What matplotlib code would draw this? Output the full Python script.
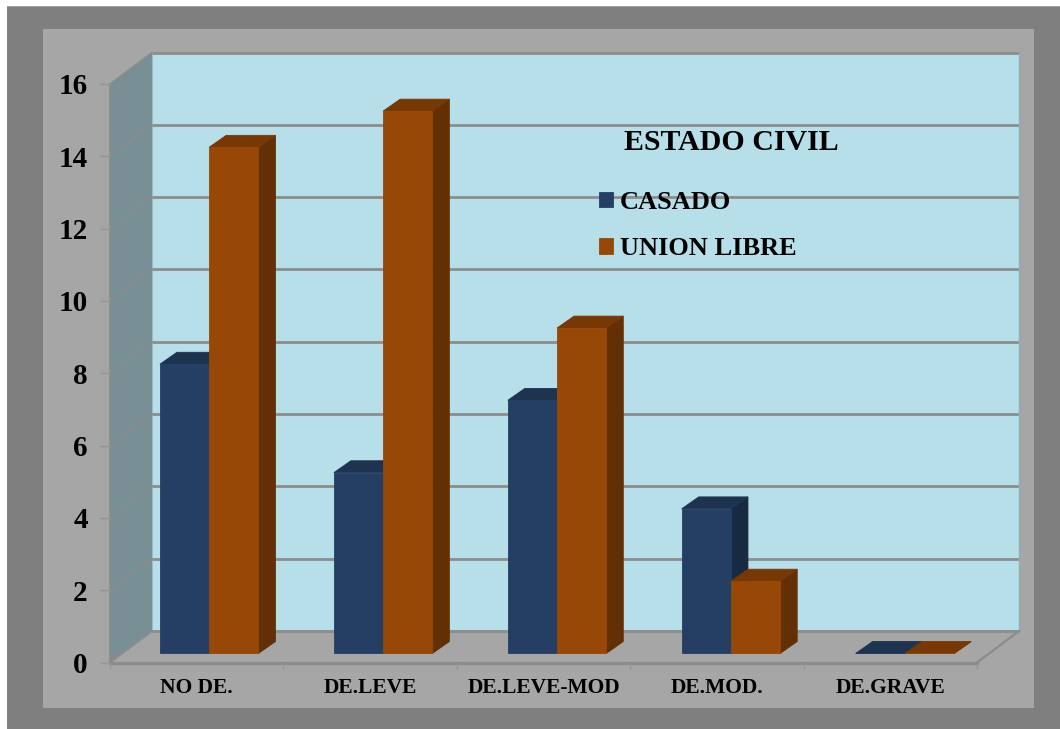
import matplotlib
matplotlib.use('Agg')
from matplotlib import pyplot as plt
from matplotlib.patches import Polygon, Rectangle
import numpy as np

categories = ['NO DE.', 'DE.LEVE', 'DE.LEVE-MOD', 'DE.MOD.', 'DE.GRAVE']
casado = [8, 5, 7, 4, 0]
union_libre = [14, 15, 9, 2, 0]
yticks = [0, 2, 4, 6, 8, 10, 12, 14, 16]

W, H = 1060, 729
plt.rcParams['font.family'] = ['Liberation Serif', 'DejaVu Serif']
plt.rcParams['font.weight'] = 'bold'

fig = plt.figure(figsize=(W / 100, H / 100), dpi=100, facecolor='white')

# background panels, pixel boxes from the top left
def panel(x0, y0, x1, y1, color):
    fig.add_artist(Rectangle((x0 / W, 1 - y1 / H), (x1 - x0) / W, (y1 - y0) / H, zorder=-5,
                             transform=fig.transFigure, facecolor=color, edgecolor='none'))

panel(7, 6, W, H, '#7f7f7f')
panel(7, 6, W, 7, '#a0a0a0')
panel(43, 29, 1034, 708, '#a6a6a6')

# axes is the front plane of the 3d box
ax = fig.add_axes([110 / W, 1 - 662.5 / H, 867 / W, 578.5 / H])
ax.set_xlim(0, 5)
ax.set_ylim(0, 16)
ax.patch.set_visible(False)

grid_col = '#8c8c8c'
depth_x = 42 / 173.4   # wall offset in category units
depth_y = 0.87         # wall offset in value units
bar_dx = 17 / 173.4
bar_dy = 0.33
bar_w = 0.284
bar_floor = 0.25
group_step = 1.003

def poly(pts, color, z, edge=None, lw=0.6):
    ax.add_patch(Polygon(pts, closed=True, facecolor=color, edgecolor=edge or color,
                         linewidth=lw, zorder=z, clip_on=False))

# walls and floor
poly([(depth_x, depth_y), (5 + depth_x, depth_y), (5 + depth_x, 16 + depth_y), (depth_x, 16 + depth_y)],
     '#b7dfe9', 0.5)
poly([(0, 0), (depth_x, depth_y), (depth_x, 16 + depth_y), (0, 16)], '#788f96', 0.6)
poly([(0, 0), (5, 0), (5 + depth_x, depth_y), (depth_x, depth_y)], '#a6a6a6', 0.7)

for t in yticks:
    ax.plot([depth_x, 5 + depth_x], [t + depth_y, t + depth_y], color=grid_col, lw=2.0,
            zorder=0.8, clip_on=False, solid_capstyle='butt')
    ax.plot([0, depth_x], [t, t + depth_y], color='#8c8c8c', lw=1.1, zorder=0.9, clip_on=False)
ax.plot([5 + depth_x, 5 + depth_x], [depth_y, 16 + depth_y], color='#8fb0b8', lw=1, zorder=0.8, clip_on=False)
ax.plot([5, 5 + depth_x], [0, depth_y], color=grid_col, lw=1.6, zorder=0.9, clip_on=False)
ax.plot([0, depth_x], [0, depth_y], color=grid_col, lw=1.2, zorder=0.9, clip_on=False)

# bars, front face with bar(), depth faces from the same values
def bars3d(values, left, front, side, top, z, label):
    x = np.arange(len(values)) * group_step + left
    b = ax.bar(x, values, width=bar_w, bottom=bar_floor, align='edge', color=front,
               edgecolor=front, linewidth=0.6, zorder=z + 0.2, clip_on=False, label=label)
    for xi, v in zip(x, values):
        y0, y1 = bar_floor, bar_floor + v
        r = xi + bar_w
        poly([(r, y0), (r + bar_dx, y0 + bar_dy), (r + bar_dx, y1 + bar_dy), (r, y1)], side, z)
        poly([(xi, y1), (r, y1), (r + bar_dx, y1 + bar_dy), (xi + bar_dx, y1 + bar_dy)], top, z + 0.1)
    return b

bars3d(casado, 0.288, '#243f63', '#182a42', '#1d3350', 2, 'CASADO')
bars3d(union_libre, 0.288 + bar_w, '#974806', '#632f04', '#773803', 3, 'UNION LIBRE')

# axis
ax.set_yticks(yticks)
ax.set_xticks(np.arange(6))
ax.set_xticklabels([])
ax.set_xticks(np.arange(5) + 0.5, labels=categories, minor=True)
ax.tick_params(axis='x', which='major', length=4, width=1, color='#969696')
ax.tick_params(axis='x', which='minor', length=0, pad=11, labelsize=15.5)
ax.tick_params(axis='y', length=7, width=1, color='#969696', pad=9, labelsize=21)
for s in ['top', 'right']:
    ax.spines[s].set_visible(False)
ax.spines['left'].set_color(grid_col)
ax.spines['left'].set_linewidth(1.2)
ax.spines['bottom'].set_color(grid_col)
ax.spines['bottom'].set_linewidth(2.4)
for s in ax.spines.values():
    s.set_zorder(1.5)

# legend
fig.text(731.5 / W, 1 - 142.5 / H, 'ESTADO CIVIL', fontsize=21.5, ha='center', va='center',
         fontweight='bold', color='black')
leg = ax.legend(loc='upper left', bbox_to_anchor=(591 / W, 1 - 183 / H), bbox_transform=fig.transFigure,
                frameon=False, fontsize=19, handlelength=0.53, handleheight=0.53,
                handletextpad=0.27, labelspacing=0.88, borderpad=0.3, borderaxespad=0)
leg.set_zorder(5)

fig.savefig('out.png', dpi=100, facecolor='white')
